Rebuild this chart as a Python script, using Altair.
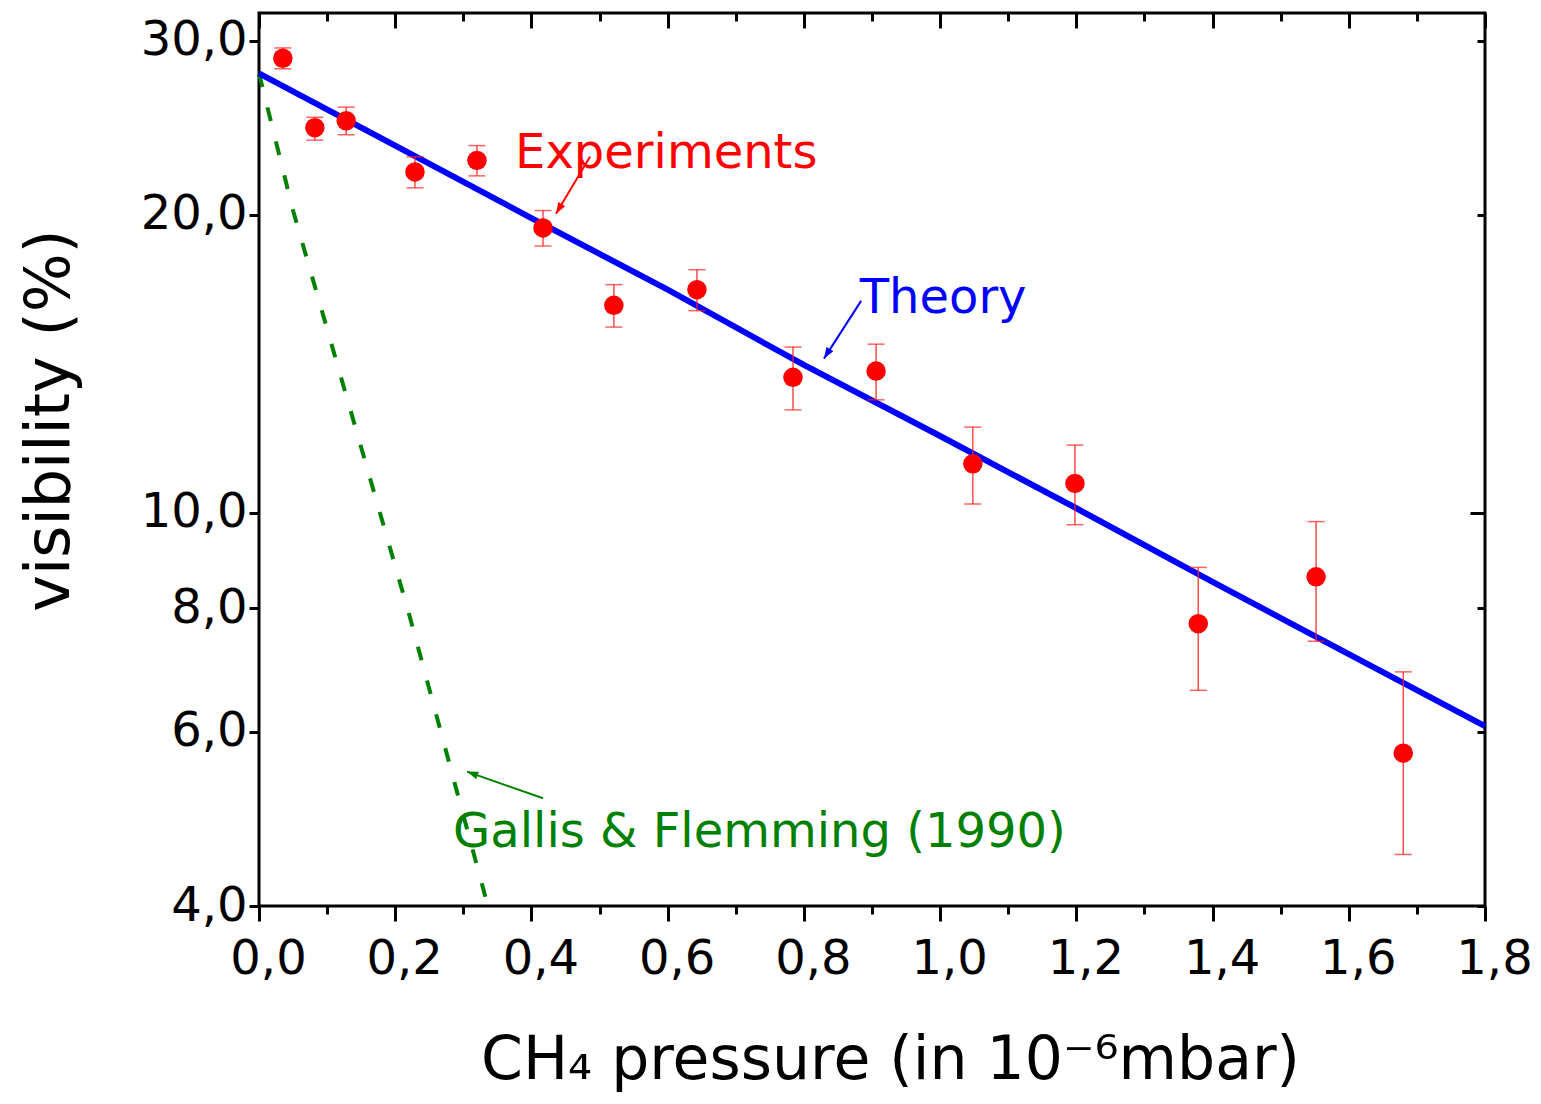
import altair as alt
import pandas as pd

# ---- data ----
pressure = [0.035, 0.082, 0.128, 0.229, 0.320, 0.417, 0.521, 0.643, 0.784, 0.906,
            1.048, 1.198, 1.379, 1.552, 1.680]
visibility = [28.8, 24.5, 24.9, 22.1, 22.7, 19.4, 16.2, 16.8, 13.7, 13.9,
              11.2, 10.7, 7.72, 8.61, 5.71]
vis_hi = [29.5, 25.1, 25.7, 22.9, 23.5, 20.2, 17.0, 17.6, 14.7, 14.8,
          12.2, 11.7, 8.8, 9.79, 6.90]
vis_lo = [28.1, 23.8, 24.1, 21.3, 21.9, 18.6, 15.4, 16.0, 12.7, 13.0,
          10.2, 9.72, 6.61, 7.41, 4.51]

theory_p = [0.0, 0.2, 0.4, 0.6, 0.8, 1.0, 1.2, 1.4, 1.6, 1.8]
theory_v = [27.8, 23.5, 19.85, 16.8, 14.1, 11.95, 10.1, 8.51, 7.19, 6.08]

gallis_p = [0.0, 0.050, 0.1385, 0.2217, 0.336]
gallis_v = [27.8, 20.2, 12.4, 7.83, 4.0]

labels = ["Experiments", "Theory", "Gallis & Flemming (1990)"]
label_x = [0.376, 0.882, 0.285]
label_y = [22.3, 15.9, 4.59]
label_color = ["#ff0000", "#0000ff", "#008000"]
arrow_x0 = [0.486, 0.884, 0.417]
arrow_y0 = [22.9, 16.37, 5.14]
arrow_x1 = [0.436, 0.8295, 0.3054]
arrow_y1 = [20.05, 14.31, 5.47]
arrow_angle = [211, 212, 290]

x_ticks = [round(0.1 * i, 1) for i in range(19)]
y_ticks = [4, 6, 8, 10, 20, 30]

# ---- tables ----
df_pts = pd.DataFrame({"p": pressure, "v": visibility, "hi": vis_hi, "lo": vis_lo})
df_th = pd.DataFrame({"p": theory_p, "v": theory_v})
df_ga = pd.DataFrame({"p": gallis_p, "v": gallis_v})
df_lab = pd.DataFrame({"p": label_x, "v": label_y, "text": labels, "c": label_color})
df_arr = pd.DataFrame({"p": arrow_x0, "v": arrow_y0, "p2": arrow_x1, "v2": arrow_y1,
                       "c": label_color, "a": arrow_angle})

W, H = 1226, 893
FONT = "DejaVu Sans"
comma = "replace(format(datum.value, '.1f'), '.', ',')"

xscale = alt.Scale(domain=[0, 1.8], nice=False, zero=False)
yscale = alt.Scale(type="log", domain=[4, 32], nice=False)

x_axis = alt.Axis(
    orient="bottom", values=x_ticks, domain=False, grid=False,
    tickColor="black", tickWidth=3,
    tickSize={"condition": {"test": "round(datum.value*10) % 2 == 1", "value": 8}, "value": 15},
    labelExpr=f"round(datum.value*10) % 2 == 1 ? '' : {comma}",
    labelFont=FONT, labelFontSize=48, labelColor="black", labelPadding=14,
    labelOffset=9, labelFlush=False, labelOverlap=False,
    title="CH\u2084 pressure (in 10\u207b\u2076mbar)", titleFont=FONT, titleFontSize=60,
    titleFontWeight="normal", titleColor="black", titleX=631, titleY=172,
    titleAlign="center", titleBaseline="alphabetic",
)
y_axis = alt.Axis(
    orient="left", values=y_ticks, domain=False, grid=False,
    tickColor="black", tickWidth=3, tickSize=10,
    labelExpr=comma, labelFont=FONT, labelFontSize=48, labelColor="black",
    labelPadding=2, labelOverlap=False,
    title="visibility (%)", titleFont=FONT, titleFontSize=62, titleFontWeight="normal",
    titleColor="black", titleX=-191, titleY=407, titleAlign="center",
    titleBaseline="alphabetic", titleAngle=270,
)


def X(field="p"):
    return alt.X(f"{field}:Q", scale=xscale, axis=x_axis)


def Y(field="v"):
    return alt.Y(f"{field}:Q", scale=yscale, axis=y_axis)


gallis = alt.Chart(df_ga).mark_line(color="#008000", strokeWidth=4, strokeDash=[14, 21]).encode(
    x=X(), y=Y())
theory = alt.Chart(df_th).mark_line(color="#0000ff", strokeWidth=6).encode(x=X(), y=Y())
bars = alt.Chart(df_pts).mark_rule(color="#ff2020", strokeWidth=1.5, opacity=0.8).encode(
    x=X(), y=Y("lo"), y2="hi:Q")
cap_hi = alt.Chart(df_pts).mark_tick(orient="horizontal", size=17, thickness=1.5,
                                     color="#ff2020", opacity=0.7).encode(x=X(), y=Y("hi"))
cap_lo = alt.Chart(df_pts).mark_tick(orient="horizontal", size=17, thickness=1.5,
                                     color="#ff2020", opacity=0.7).encode(x=X(), y=Y("lo"))
points = alt.Chart(df_pts).mark_circle(size=380, color="#ff0000", opacity=1).encode(
    x=X(), y=Y())
arrows = alt.Chart(df_arr).mark_rule(strokeWidth=2).encode(
    x=X(), y=Y(), x2="p2:Q", y2="v2:Q", color=alt.Color("c:N", scale=None))
heads = alt.Chart(df_arr).mark_point(shape="M0,0L-0.36,1L0.36,1Z", filled=True, size=500,
                                     opacity=1).encode(
    x=X("p2"), y=Y("v2"), color=alt.Color("c:N", scale=None), angle=alt.Angle("a:Q", scale=None))
texts = alt.Chart(df_lab).mark_text(align="left", baseline="alphabetic", font=FONT,
                                    fontSize=48).encode(
    x=X(), y=Y(), text="text:N", color=alt.Color("c:N", scale=None))

main = alt.layer(gallis, theory, bars, cap_hi, cap_lo, points, arrows, heads, texts)

# mirrored inward ticks on the top and right edges
top_axis = alt.Axis(
    orient="bottom", offset=-H, values=x_ticks, labels=False, domain=False, grid=False,
    tickColor="black", tickWidth=3,
    tickSize={"condition": {"test": "round(datum.value*10) % 2 == 1", "value": 8}, "value": 15},
    title=None,
)
right_axis = alt.Axis(
    orient="left", offset=-W, values=y_ticks, labels=False, domain=False, grid=False,
    tickColor="black", tickWidth=3,
    tickSize={"condition": {"test": "datum.value == 10", "value": 15}, "value": 8},
    title=None,
)
mirror = alt.Chart(df_th).mark_point(opacity=0).encode(
    x=alt.X("p:Q", scale=xscale, axis=top_axis),
    y=alt.Y("v:Q", scale=yscale, axis=right_axis),
)

chart = alt.layer(main, mirror).resolve_scale(
    x="independent", y="independent"
).resolve_axis(
    x="independent", y="independent"
).properties(
    width=W, height=H,
    autosize=alt.AutoSizeParams(type="none"),
    padding={"left": 251, "top": 5, "right": 48, "bottom": 186},
).configure(
    font=FONT, background="white",
    view=alt.ViewConfig(stroke="black", strokeWidth=3),
)

chart.save("out.html", embed_options={"renderer": "svg", "actions": False})
